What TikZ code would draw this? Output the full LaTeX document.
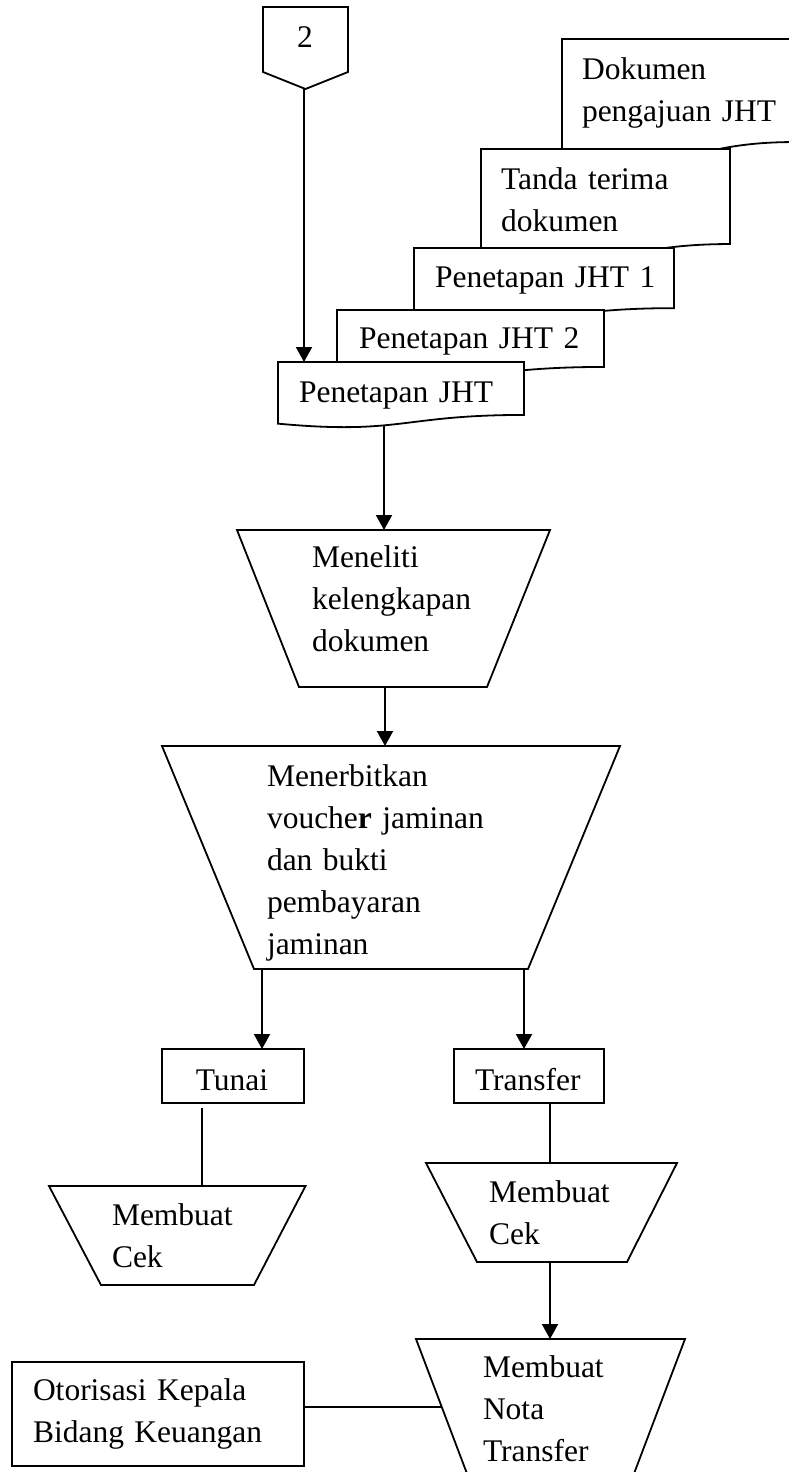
\documentclass[tikz,border=0pt]{standalone}
\usepackage{fontspec}
\setmainfont{Liberation Serif}
\usetikzlibrary{arrows.meta}
\newcommand\docpath[4]{% L T w h
  \draw[shp] (#1,#2) -- ({#1+#3},#2) -- ({#1+#3},{#2+0.802*#4})
    .. controls ({#1+0.5*#3},{#2+0.802*#4}) and ({#1+0.5*#3},{#2+1.107*#4}) .. (#1,{#2+0.934*#4}) -- cycle;}
\begin{document}
\begin{tikzpicture}[x=1pt,y=-1pt,
  shp/.style={draw=black, line width=1.8pt, fill=white, line join=miter},
  arr/.style={line width=2pt, -{Triangle[width=16pt,length=15pt]}},
  thinline/.style={line width=1.3pt},
  box/.style={inner sep=0pt, outer sep=0pt, anchor=north west},
  txt/.style={inner sep=0pt, outer sep=0pt, anchor=base west, align=left, text width=320pt,
    font=\fontsize{31.5}{42}\selectfont}]
\useasboundingbox (0,0) rectangle (789,1472);
\clip (0,0) rectangle (789,1472);
\fill[white] (0,0) rectangle (789,1472);

% ---- invisible frames of the shapes ----
\node[box, minimum width=85pt, minimum height=65pt] (c2) at (263,7) {};
\node[box, minimum width=246pt, minimum height=53pt] (pj) at (278,362) {};
\node[box, minimum width=313pt, minimum height=157pt] (men) at (237,530) {};
\node[box, minimum width=458pt, minimum height=223pt] (ver) at (162,746) {};
\node[box, minimum width=142pt, minimum height=54pt] (tun) at (162,1049) {};
\node[box, minimum width=150pt, minimum height=54pt] (trf) at (454,1049) {};
\node[box, minimum width=256.5pt, minimum height=99pt] (ck1) at (49,1186) {};
\node[box, minimum width=251pt, minimum height=99pt] (ck2) at (426,1163) {};
\node[box, minimum width=269pt, minimum height=161pt] (nota) at (416,1339) {};
\node[box, minimum width=292pt, minimum height=104pt] (oto) at (12,1362) {};

% ---- connector anchors ----
\coordinate (a0) at ([xshift=-1.5pt]c2.south);
\coordinate (a1) at ([xshift=106pt]pj.south west);
\coordinate (a2) at ([xshift=148pt]men.south west);
\coordinate (a3) at ([xshift=100pt]ver.south west);
\coordinate (a4) at ([xshift=362pt]ver.south west);
\coordinate (a5) at ([xshift=40pt,yshift=-5pt]tun.south west);
\coordinate (a6) at ([xshift=96pt]trf.south west);
\coordinate (a7) at ([xshift=124pt]ck2.south west);
\coordinate (a8) at ([yshift=7pt]oto.east);
\coordinate (a9) at (441.5,1407);

% ---- connectors ----
\draw[arr] (a0) -- (a0 |- pj.north);
\draw[arr] (a1) -- (a1 |- men.north);
\draw[arr] (a2) -- (a2 |- ver.north);
\draw[arr] (a3) -- (a3 |- tun.north);
\draw[arr] (a4) -- (a4 |- trf.north);
\draw[thinline] (a5) -- (a5 |- ck1.north);
\draw[thinline] (a6) -- (a6 |- ck2.north);
\draw[arr] (a7) -- (a7 |- nota.north);
\draw[thinline] (a8) -- (a9);

% ---- off-page connector ----
\draw[shp] (c2.north west) -- (c2.north east) -- (c2.south east) -- (305.5,89) -- (c2.south west) -- cycle;
\node[inner sep=0pt, anchor=base, font=\fontsize{31.5}{42}\selectfont] (t2) at (305,48) {2};

% ---- document stack ----
\docpath{562}{39}{232}{128.5}
\node[txt] (tdok) at (582,79) {Dokumen\\pengajuan JHT};
\docpath{481}{149}{249}{118.5}
\node[txt] (ttan) at (501,189) {Tanda terima\\dokumen};
\docpath{414}{248}{260}{75}
\node[txt] (tj1) at (435,287) {Penetapan JHT 1};
\docpath{337}{310}{267}{71}
\node[txt] (tj2) at (359,348) {Penetapan JHT 2};
\docpath{278}{362}{246}{66}
\node[txt] (tpj) at (299,402) {Penetapan JHT};

% ---- process shapes ----
\draw[shp] (men.north west) -- (men.north east) -- ([xshift=-63pt]men.south east) -- ([xshift=62pt]men.south west) -- cycle;
\node[txt] (tmen) at (312,567) {Meneliti\\kelengkapan\\dokumen};

\draw[shp] (ver.north west) -- (ver.north east) -- ([xshift=-92pt]ver.south east) -- ([xshift=92pt]ver.south west) -- cycle;
\node[txt] (tver) at (267,786) {Menerbitkan\\vouche\textbf{r} jaminan\\dan bukti\\pembayaran\\jaminan};

\draw[shp] (tun.north west) rectangle (tun.south east);
\node[inner sep=0pt, anchor=base, font=\fontsize{31.5}{42}\selectfont] (ttun) at (232,1090) {Tunai};
\draw[shp] (trf.north west) rectangle (trf.south east);
\node[txt] (ttrf) at (475,1090) {Transfer};

\draw[shp] (ck1.north west) -- (ck1.north east) -- ([xshift=-51.5pt]ck1.south east) -- ([xshift=52pt]ck1.south west) -- cycle;
\node[txt] (tck1) at (112,1225) {Membuat\\Cek};

\draw[shp] (ck2.north west) -- (ck2.north east) -- ([xshift=-50pt]ck2.south east) -- ([xshift=51pt]ck2.south west) -- cycle;
\node[txt] (tck2) at (489,1202) {Membuat\\Cek};

\draw[shp] (nota.north west) -- (nota.north east) -- ([xshift=-61pt]nota.south east) -- ([xshift=61pt]nota.south west) -- cycle;
\node[txt] (tnota) at (483,1377) {Membuat\\Nota\\Transfer};

\draw[shp] (oto.north west) rectangle (oto.south east);
\node[txt] (toto) at (33,1400) {Otorisasi Kepala\\Bidang Keuangan};
\end{tikzpicture}
\end{document}
